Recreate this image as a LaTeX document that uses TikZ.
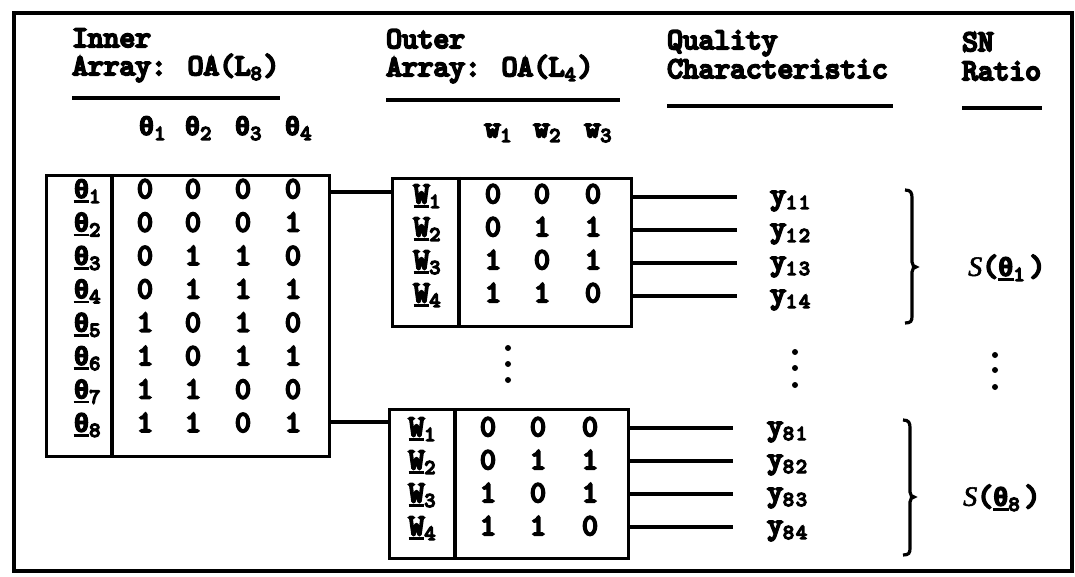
\documentclass[tikz,border=0pt]{standalone}
\usepackage{fontspec}
\setmainfont{Liberation Mono}
\newfontfamily\tw{lmmono10-regular}[Extension=.otf, FakeBold=7]
\newfontfamily\gr{Liberation Mono Bold}[FakeBold=5]
\newfontfamily\serifit{Liberation Serif}[FakeBold=2]
\newcommand\fsz{\fontsize{30}{33}\selectfont\tw}
\newcommand\sbs[1]{\makebox[13pt][l]{\raisebox{-5pt}{\fontsize{21}{21}\selectfont #1}}}
\newcommand\ul[1]{\setbox0\hbox{#1}\rlap{\rule[-5pt]{\wd0}{2.6pt}}\box0}
\newcommand\tht{{\gr\fontsize{26}{30}\selectfont θ}}
\tikzset{
  frame/.style={line width=3.2pt},
  tbox/.style={draw, line width=3.2pt, inner sep=0pt, anchor=north west},
  conn/.style={line width=3.2pt},
  txt/.style={inner sep=0pt, font=\fsz},
  dot/.style={fill=black},
}
\begin{document}
\begin{tikzpicture}[x=1pt,y=-1pt]
\useasboundingbox (0,0) rectangle (1075,577);
% frame
\draw[frame] (14,13) rectangle (1072,571);
% headers
\node[txt, anchor=base west] (h1a) at (72,47) {Inner};
\node[txt, anchor=base west] (h1b) at (72,75) {Array: OA(L\sbs{8})};
\draw[conn] (72,98) -- (280,98);
\node[txt, anchor=base west] (h2a) at (386,48) {Outer};
\node[txt, anchor=base west] (h2b) at (386,76) {Array: OA(L\sbs{4})};
\draw[conn] (386,100) -- (620,100);
\node[txt, anchor=base west] (h3a) at (667,49) {Quality};
\node[txt, anchor=base west] (h3b) at (667,78) {Characteristic};
\draw[conn] (667,106) -- (893,106);
\node[txt, anchor=base west] (h4a) at (962,51) {SN};
\node[txt, anchor=base west] (h4b) at (962,80) {Ratio};
\draw[conn] (962,108) -- (1042,108);
% column headers
\foreach \k/\xx in {1/147,2/193,3/243,4/293}
  \node[txt, anchor=base] (th\k) at (\xx+6,135) {\tht\sbs{\k}};
\foreach \k/\xx in {1/493,2/542,3/593}
  \node[txt, anchor=base] (wh\k) at (\xx+6,137) {w\sbs{\k}};
% inner array
\node[tbox, minimum width=283pt, minimum height=281pt] (inner) at (45,174) {};
\draw[conn] ([xshift=67pt]inner.north west) -- ([xshift=67pt]inner.south west);
\foreach \i/\a/\b/\c/\d in {1/0/0/0/0,2/0/0/0/1,3/0/1/1/0,4/0/1/1/1,5/1/0/1/0,6/1/0/1/1,7/1/1/0/0,8/1/1/0/1}{
  \pgfmathsetmacro\yy{190+33.4*(\i-1)+8}
  \node[txt, anchor=base] (t\i) at (88,\yy) {\ul{\tht}\sbs{\i}};
  \node[txt, anchor=base] (ia\i) at (145,\yy) {\a};
  \node[txt, anchor=base] (ib\i) at (193,\yy) {\b};
  \node[txt, anchor=base] (ic\i) at (243,\yy) {\c};
  \node[txt, anchor=base] (id\i) at (293,\yy) {\d};
}
% outer arrays
\node[tbox, minimum width=239pt, minimum height=148pt] (box1) at (391,177) {};
\draw[conn] ([xshift=68pt]box1.north west) -- ([xshift=68pt]box1.south west);
\node[tbox, minimum width=239pt, minimum height=149pt] (box2) at (388,408) {};
\draw[conn] ([xshift=67pt]box2.north west) -- ([xshift=67pt]box2.south west);
\foreach \i/\a/\b/\c in {1/0/0/0,2/0/1/1,3/1/0/1,4/1/1/0}{
  \pgfmathsetmacro\ya{195+33*(\i-1)+8}
  \pgfmathsetmacro\yb{428+33*(\i-1)+8}
  \node[txt, anchor=base] (wa\i) at (428,\ya) {\ul{W}\sbs{\i}};
  \node[txt, anchor=base] at (493,\ya) {\a};
  \node[txt, anchor=base] at (542,\ya) {\b};
  \node[txt, anchor=base] at (593,\ya) {\c};
  \node[txt, anchor=base] (wb\i) at (423,\yb) {\ul{W}\sbs{\i}};
  \node[txt, anchor=base] at (488,\yb) {\a};
  \node[txt, anchor=base] at (538,\yb) {\b};
  \node[txt, anchor=base] at (590,\yb) {\c};
  % output lines and y labels
  \pgfmathsetmacro\la{197+33*(\i-1)}
  \pgfmathsetmacro\lb{428+33*(\i-1)}
  \coordinate (ea\i) at (737,\la);
  \coordinate (eb\i) at (733,\lb);
  \draw[conn] (box1.east |- ea\i) -- (ea\i);
  \draw[conn] (box2.east |- eb\i) -- (eb\i);
  \node[txt, anchor=base west] (ya\i) at (770,\la+7) {y\sbs{1}\sbs{\i}};
  \node[txt, anchor=base west] (yb\i) at (767,\lb+7) {y\sbs{8}\sbs{\i}};
}
% connectors inner -> outer
\coordinate (c1) at (0,192);
\coordinate (c8) at (0,422);
\draw[conn] (inner.east |- c1) -- (box1.west |- c1);
\draw[conn] (inner.east |- c8) -- (box2.west |- c8);
% dots
\foreach \yy in {348,364,380} \fill[dot] (508,\yy) circle (3pt);
\foreach \yy in {352,368,385} \fill[dot] (795,\yy) circle (3pt);
\foreach \yy in {355,370,387} \fill[dot] (995,\yy) circle (3pt);
% braces
\draw[conn] (905,190) .. controls (911,190) and (912,193) .. (912,198) -- (912,262)
  .. controls (912,265) and (914,267) .. (916,267) .. controls (914,267) and (912,269) .. (912,272)
  -- (912,316) .. controls (912,321) and (911,323) .. (905,323);
\draw[conn] (903,420) .. controls (909,420) and (910,423) .. (910,428) -- (910,492)
  .. controls (910,495) and (912,497) .. (914,497) .. controls (912,497) and (910,499) .. (910,502)
  -- (910,548) .. controls (910,553) and (909,555) .. (903,555);
% SN ratios
\node[txt, anchor=west] (s1) at (968,268) {{\serifit\itshape\fontsize{28}{30}\selectfont S}(\ul{\tht}\sbs{1}\hspace{3pt})};
\node[txt, anchor=west] (s8) at (963,498) {{\serifit\itshape\fontsize{28}{30}\selectfont S}(\ul{\tht}\sbs{8}\hspace{3pt})};
\end{tikzpicture}
\end{document}
